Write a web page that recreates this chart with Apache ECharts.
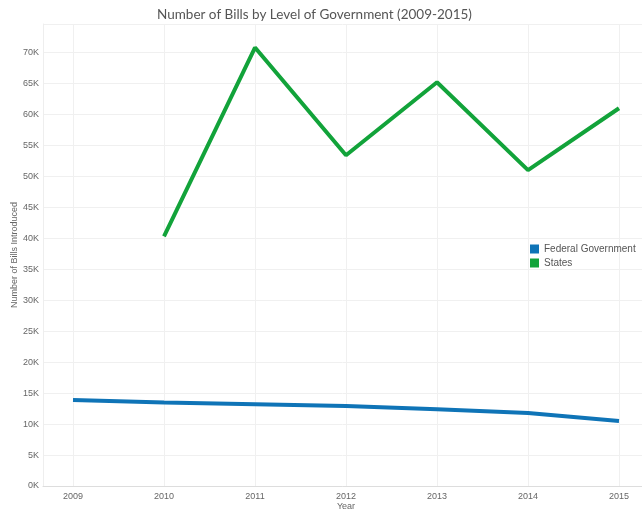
<!DOCTYPE html>
<html>
<head>
<meta charset="utf-8">
<script src="https://cdn.jsdelivr.net/npm/echarts@6/dist/echarts.min.js"></script>
<style>
  html, body { margin: 0; padding: 0; background: #fff; }
  #chart { width: 642px; height: 510px; }
</style>
</head>
<body>
<div id="chart"></div>
<script>
// Bills introduced per year, by level of government
const years = [2009, 2010, 2011, 2012, 2013, 2014, 2015];
const federal = [13900, 13500, 13200, 12900, 12400, 11800, 10500];
const states = [null, 40300, 70800, 53400, 65200, 51000, 61000];
const seriesNames = ['Federal Government', 'States'];

const gridColor = '#f0f0f0';
const textColor = '#666';
const yMax = 74600;

const chart = echarts.init(document.getElementById('chart'));
chart.setOption({
  animation: false,
  title: {
    text: 'Number of Bills by Level of Government (2009-2015)',
    left: 152,
    top: 3,
    textStyle: { fontFamily: 'Lato', fontSize: 13.5, fontWeight: 'normal', color: '#555' }
  },
  legend: {
    orient: 'vertical',
    left: 525,
    top: 239,
    itemWidth: 9,
    itemHeight: 9,
    itemGap: 4,
    icon: 'rect',
    data: seriesNames,
    textStyle: { fontFamily: 'Liberation Sans', fontSize: 10, color: '#555', padding: 0 }
  },
  // outer frame carries the value scale and horizontal gridlines;
  // inner frame spans 2009..2015 and carries the year ticks and data
  grid: [
    { left: 43, right: 0, top: 24, bottom: 24, outerBoundsMode: 'none' },
    { left: 73, right: 23, top: 24, bottom: 24, outerBoundsMode: 'none' }
  ],
  xAxis: [
    {
      gridIndex: 0,
      type: 'value',
      min: 0,
      max: 1,
      axisLine: { show: true, lineStyle: { color: '#ddd' } },
      axisTick: { show: false },
      axisLabel: { show: false },
      splitLine: { show: false }
    },
    {
      gridIndex: 1,
      type: 'value',
      min: 2009,
      max: 2015,
      interval: 1,
      name: 'Year',
      nameLocation: 'middle',
      nameGap: 16,
      nameMoveOverlap: false,
      nameTextStyle: { fontFamily: 'Liberation Sans', fontSize: 9, color: textColor },
      axisLine: { show: false },
      axisTick: { show: false },
      axisLabel: {
        fontFamily: 'Liberation Sans', fontSize: 9, color: textColor, margin: 6,
        formatter: v => String(v)
      },
      splitLine: { show: true, lineStyle: { color: gridColor } }
    }
  ],
  yAxis: [
    {
      gridIndex: 0,
      type: 'value',
      min: 0,
      max: yMax,
      interval: 5000,
      name: 'Number of Bills Introduced',
      nameLocation: 'middle',
      nameGap: 24,
      nameMoveOverlap: false,
      nameTextStyle: { fontFamily: 'Liberation Sans', fontSize: 9, color: textColor },
      axisLine: { show: true, lineStyle: { color: '#eee' } },
      axisTick: { show: false },
      axisLabel: {
        fontFamily: 'Liberation Sans', fontSize: 9, color: textColor, margin: 4,
        formatter: v => (v % 5000 === 0 ? (v / 1000) + 'K' : '')
      },
      splitLine: { show: true, lineStyle: { color: gridColor } }
    },
    {
      gridIndex: 1,
      type: 'value',
      min: 0,
      max: yMax,
      show: false,
      splitLine: { show: false }
    }
  ],
  series: [
    {
      name: seriesNames[0],
      type: 'line',
      xAxisIndex: 1,
      yAxisIndex: 1,
      data: years.map((y, i) => [y, federal[i]]),
      showSymbol: false,
      lineStyle: { width: 4, color: '#0f74b7' },
      itemStyle: { color: '#0f74b7' }
    },
    {
      name: seriesNames[1],
      type: 'line',
      xAxisIndex: 1,
      yAxisIndex: 1,
      data: years.map((y, i) => [y, states[i]]),
      showSymbol: false,
      connectNulls: false,
      lineStyle: { width: 4, color: '#12a33a' },
      itemStyle: { color: '#12a33a' }
    }
  ]
});
</script>
</body>
</html>
